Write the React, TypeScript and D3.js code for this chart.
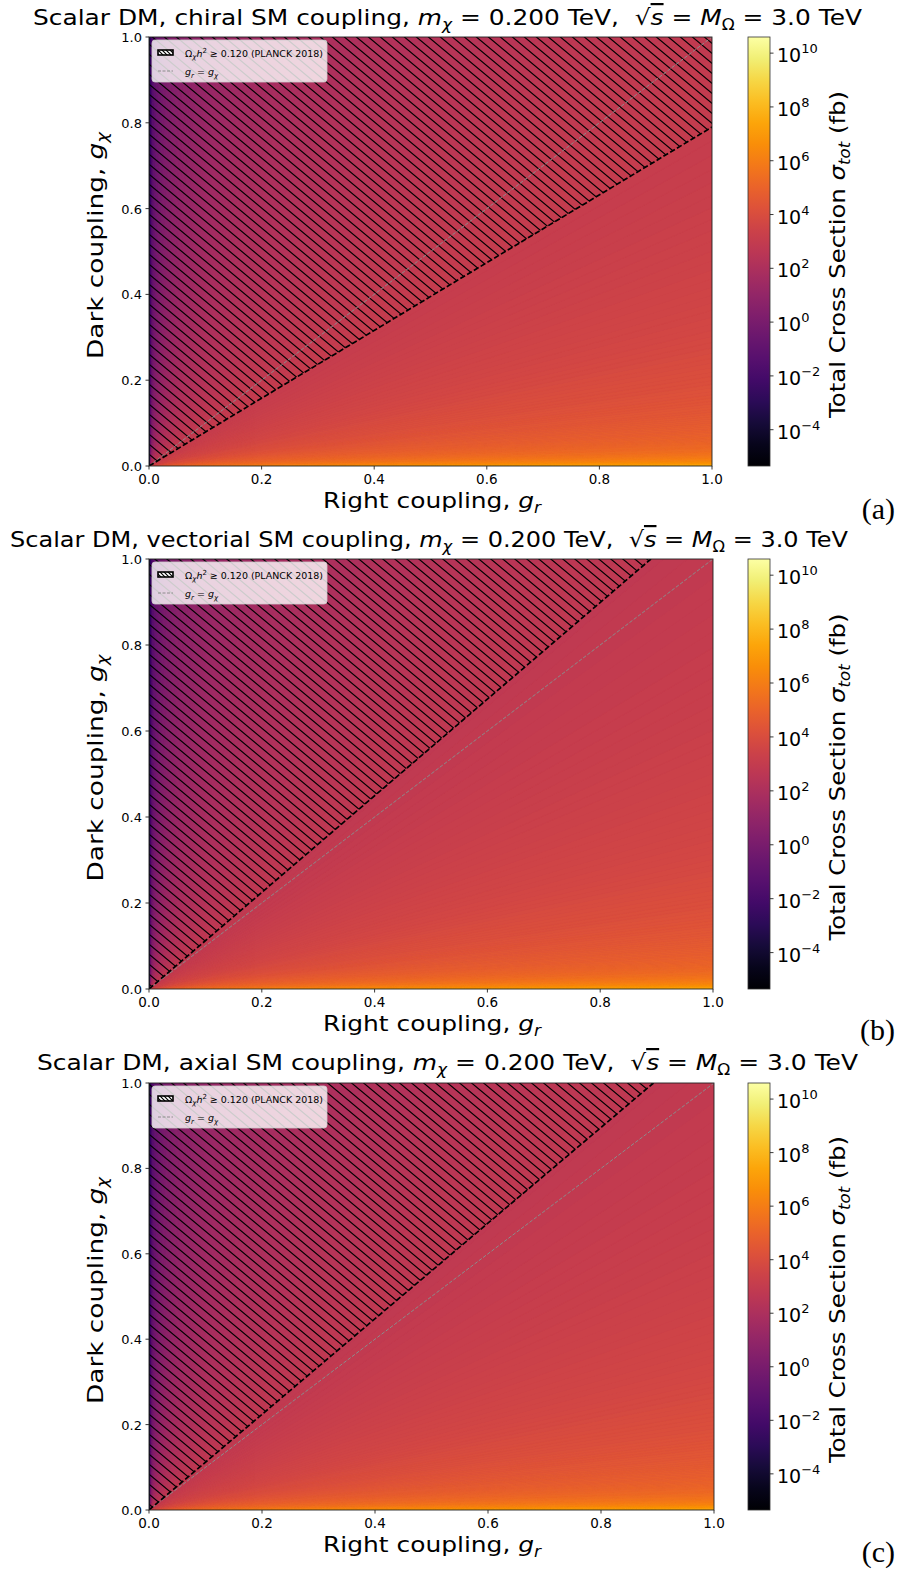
import React from 'react';
import * as d3 from 'd3';

const W = 898;
const H = 1573;

// colour field: log10(g_chi / g_r) -> log10(sigma_tot / fb)
const ratioLog = [-4, -3, -2.5, -2, -1.5, -1, -0.5, 0, 0.5, 1, 1.5, 2, 2.5, 3, 4];
const sigmaChiral = [9.6, 8.5, 7.6, 6.6, 5.6, 4.7, 3.7, 2.9, 2.0, 1.0, 0.0, -0.9, -1.8, -2.6, -4.0];
const sigmaVector = [9.6, 8.5, 7.6, 6.6, 5.6, 4.7, 3.7, 2.9, 2.0, 1.0, 0.0, -0.9, -1.8, -2.6, -4.0];
const sigmaAxial = [9.6, 8.5, 7.6, 6.6, 5.6, 4.7, 3.7, 2.9, 2.0, 1.0, 0.0, -0.9, -1.8, -2.6, -4.0];

// end point (g_r, g_chi) of the Omega h^2 = 0.120 contour, starting at the origin
const relicChiral = [1.0, 0.79];
const relicVector = [0.89, 1.0];
const relicAxial = [0.893, 1.0];

const couplings = ['chiral', 'vectorial', 'axial'];
const tags = ['(a)', '(b)', '(c)'];
const axisTicks = [0, 0.2, 0.4, 0.6, 0.8, 1.0];
const cbarTicks = [-4, -2, 0, 2, 4, 6, 8, 10];
const cbarDomain = [-5.35, 10.6];

const FONT = 'DejaVu Sans, sans-serif';

const layout = [
  { y0: 37, y1: 466, x1: 712, tx0: 33, tx1: 862, ty: 25, tagY: 519 },
  { y0: 559, y1: 989, x1: 713, tx0: 10, tx1: 848, ty: 547, tagY: 1040 },
  { y0: 1083, y1: 1510, x1: 714, tx0: 37, tx1: 858, ty: 1070, tagY: 1562 },
];

const color = d3.scaleSequential(d3.interpolateInferno).domain(cbarDomain);

function Panel({ idx, sigma, relic }: { idx: number; sigma: number[]; relic: number[] }) {
  const L = layout[idx];
  const x0 = 149;
  const { y0, y1, x1 } = L;
  const x = d3.scaleLinear().domain([0, 1]).range([x0, x1]);
  const y = d3.scaleLinear().domain([0, 1]).range([y1, y0]);
  const field = d3.scaleLinear().domain(ratioLog).range(sigma).clamp(true);
  const cb = d3.scaleLinear().domain(cbarDomain).range([y1, y0]);

  // fan of thin wedges from the origin, one colour per ratio g_chi/g_r
  const dt = 0.02;
  const far = (t: number) => {
    const r = Math.pow(10, t);
    return r <= 1 ? [2, 2 * r] : [2 / r, 2];
  };
  const wedges = d3.range(-4.2, 4.2, dt).map((t) => {
    const a = far(t);
    const b = far(t + dt);
    return {
      d: `M${x(0)},${y(0)}L${x(a[0])},${y(a[1])}L${x(b[0])},${y(b[1])}Z`,
      c: color(field(t + dt / 2)),
    };
  });

  const hatchPts =
    relic[1] < 1
      ? [[0, 0], [0, 1], [1, 1], [relic[0], relic[1]]]
      : [[0, 0], [0, 1], [relic[0], relic[1]]];
  const hatchPath = d3.line()(hatchPts.map((p) => [x(p[0]), y(p[1])]) as [number, number][]) + 'Z';

  const clipId = `clip${idx}`;
  const cx = 748;
  const cw = 22;
  const midY = (y0 + y1) / 2;

  return (
    <g fontFamily={FONT}>
      <defs>
        <clipPath id={clipId}>
          <rect x={x0} y={y0} width={x1 - x0} height={y1 - y0} />
        </clipPath>
      </defs>
      <text
        x={L.tx0}
        y={L.ty}
        fontSize={22}
        textLength={L.tx1 - L.tx0}
        lengthAdjust="spacingAndGlyphs"
        style={{ whiteSpace: 'pre' }}
      >
        {`Scalar DM, ${couplings[idx]} SM coupling, `}
        <tspan fontStyle="italic">m</tspan>
        <tspan fontSize={15} dy={5} fontStyle="italic">χ</tspan>
        <tspan dy={-5}>{' = 0.200 TeV,  √'}</tspan>
        <tspan fontStyle="italic" textDecoration="overline">s</tspan>
        <tspan>{' = '}</tspan>
        <tspan fontStyle="italic">M</tspan>
        <tspan fontSize={15} dy={5}>Ω</tspan>
        <tspan dy={-5}>{' = 3.0 TeV'}</tspan>
      </text>

      <g clipPath={`url(#${clipId})`}>
        <rect x={x0} y={y0} width={x1 - x0} height={y1 - y0} fill={color(field(0))} />
        {wedges.map((w, i) => (
          <path key={i} d={w.d} fill={w.c} stroke={w.c} strokeWidth={0.6} />
        ))}
        <path d={hatchPath} fill="url(#hatch)" />
        <line
          x1={x(0)} y1={y(0)} x2={x(1)} y2={y(1)}
          stroke="#8c8c8c" strokeWidth={1} strokeDasharray="3.7 1.6"
        />
        <line
          x1={x(0)} y1={y(0)} x2={x(relic[0])} y2={y(relic[1])}
          stroke="#000" strokeWidth={1.7} strokeDasharray="5.5 2.4"
        />
      </g>

      {/* legend */}
      <g>
        <rect x={x0 + 3} y={y0 + 3} width={175} height={42} rx={3} fill="#fff" fillOpacity={0.8} stroke="#cccccc" strokeWidth={0.8} />
        <rect x={x0 + 9} y={y0 + 13} width={15} height={5} fill="#fff" />
        <rect x={x0 + 9} y={y0 + 13} width={15} height={5} fill="url(#hatchSmall)" stroke="#000" strokeWidth={1.6} />
        <text x={x0 + 36} y={y0 + 19.5} fontSize={9.5} textLength={138} lengthAdjust="spacingAndGlyphs">
          Ω<tspan fontSize={7} dy={2.5} fontStyle="italic">χ</tspan>
          <tspan dy={-2.5} fontStyle="italic">h</tspan>
          <tspan fontSize={7} dy={-3.5}>2</tspan>
          <tspan dy={3.5} style={{ whiteSpace: 'pre' }}>{' ≥ 0.120 (PLANCK 2018)'}</tspan>
        </text>
        <line x1={x0 + 9} x2={x0 + 24} y1={y0 + 34} y2={y0 + 34} stroke="#8c8c8c" strokeWidth={1} strokeDasharray="3 1.5" />
        <text x={x0 + 36} y={y0 + 38} fontSize={9.5} style={{ whiteSpace: 'pre' }}>
          <tspan fontStyle="italic">g</tspan>
          <tspan fontSize={7} dy={2.5} fontStyle="italic">r</tspan>
          <tspan dy={-2.5}>{' = '}</tspan>
          <tspan fontStyle="italic">g</tspan>
          <tspan fontSize={7} dy={2.5} fontStyle="italic">χ</tspan>
        </text>
      </g>

      {/* frame */}
      <rect x={x0} y={y0} width={x1 - x0} height={y1 - y0} fill="none" stroke="#222" strokeWidth={0.9} />

      {/* x axis */}
      {axisTicks.map((t) => (
        <g key={`x${t}`}>
          <line x1={x(t)} x2={x(t)} y1={y1} y2={y1 + 3.5} stroke="#222" strokeWidth={0.9} />
          <text x={x(t)} y={y1 + 18} fontSize={13.5} textAnchor="middle">{t.toFixed(1)}</text>
        </g>
      ))}
      {/* y axis */}
      {axisTicks.map((t) => (
        <g key={`y${t}`}>
          <line x1={x0 - 3.5} x2={x0} y1={y(t)} y2={y(t)} stroke="#222" strokeWidth={0.9} />
          <text x={x0 - 7} y={y(t) + 5} fontSize={13} textAnchor="end">{t.toFixed(1)}</text>
        </g>
      ))}

      <text x={432} y={y1 + 42} fontSize={22} textAnchor="middle" textLength={218} lengthAdjust="spacingAndGlyphs" style={{ whiteSpace: 'pre' }}>
        {'Right coupling, '}
        <tspan fontStyle="italic">g</tspan>
        <tspan fontSize={15} dy={5} fontStyle="italic">r</tspan>
      </text>
      <text
        transform={`translate(103,${midY - 6}) rotate(-90)`}
        fontSize={22}
        textAnchor="middle"
        textLength={227}
        lengthAdjust="spacingAndGlyphs"
        style={{ whiteSpace: 'pre' }}
      >
        {'Dark coupling, '}
        <tspan fontStyle="italic">g</tspan>
        <tspan fontSize={15} dy={5} fontStyle="italic">χ</tspan>
      </text>

      {/* colorbar */}
      <rect x={cx} y={y0} width={cw} height={y1 - y0} fill="url(#infernoGrad)" stroke="#333" strokeWidth={0.8} />
      {cbarTicks.map((t) => (
        <g key={`c${t}`}>
          <line x1={cx + cw} x2={cx + cw + 3.5} y1={cb(t)} y2={cb(t)} stroke="#222" strokeWidth={0.9} />
          <text x={cx + cw + 7} y={cb(t) + 9} fontSize={19}>
            10<tspan fontSize={13} dy={-9}>{t < 0 ? `−${-t}` : `${t}`}</tspan>
          </text>
        </g>
      ))}
      <text
        transform={`translate(845,${midY + 3}) rotate(-90)`}
        fontSize={22}
        textAnchor="middle"
        textLength={327}
        lengthAdjust="spacingAndGlyphs"
        style={{ whiteSpace: 'pre' }}
      >
        {'Total Cross Section '}
        <tspan fontStyle="italic">σ</tspan>
        <tspan fontSize={15} dy={5} fontStyle="italic">tot</tspan>
        <tspan dy={-5}>{' (fb)'}</tspan>
      </text>

      <text x={895} y={L.tagY} fontSize={30} textAnchor="end" fontFamily="Liberation Serif, serif">
        {tags[idx]}
      </text>
    </g>
  );
}

export default function App() {
  const stops = d3.range(0, 1.0001, 0.05);
  return (
    <svg
      width={W}
      height={H}
      viewBox={`0 0 ${W} ${H}`}
      style={{ position: 'absolute', left: 0, top: 0, display: 'block', background: '#fff' }}
    >
      <defs>
        <pattern id="hatch" patternUnits="userSpaceOnUse" width={12} height={10}>
          <path d="M0,0L12,10M-2.4,8L2.4,12M9.6,-2L14.4,2" stroke="#000" strokeWidth={1.2} />
        </pattern>
        <pattern id="hatchSmall" patternUnits="userSpaceOnUse" width={4} height={4}>
          <path d="M0,0L4,4M-1,3L1,5M3,-1L5,1" stroke="#000" strokeWidth={1.2} />
        </pattern>
        <linearGradient id="infernoGrad" x1="0" y1="1" x2="0" y2="0">
          {stops.map((s) => (
            <stop key={s} offset={s} stopColor={d3.interpolateInferno(s)} />
          ))}
        </linearGradient>
      </defs>
      <Panel idx={0} sigma={sigmaChiral} relic={relicChiral} />
      <Panel idx={1} sigma={sigmaVector} relic={relicVector} />
      <Panel idx={2} sigma={sigmaAxial} relic={relicAxial} />
    </svg>
  );
}
